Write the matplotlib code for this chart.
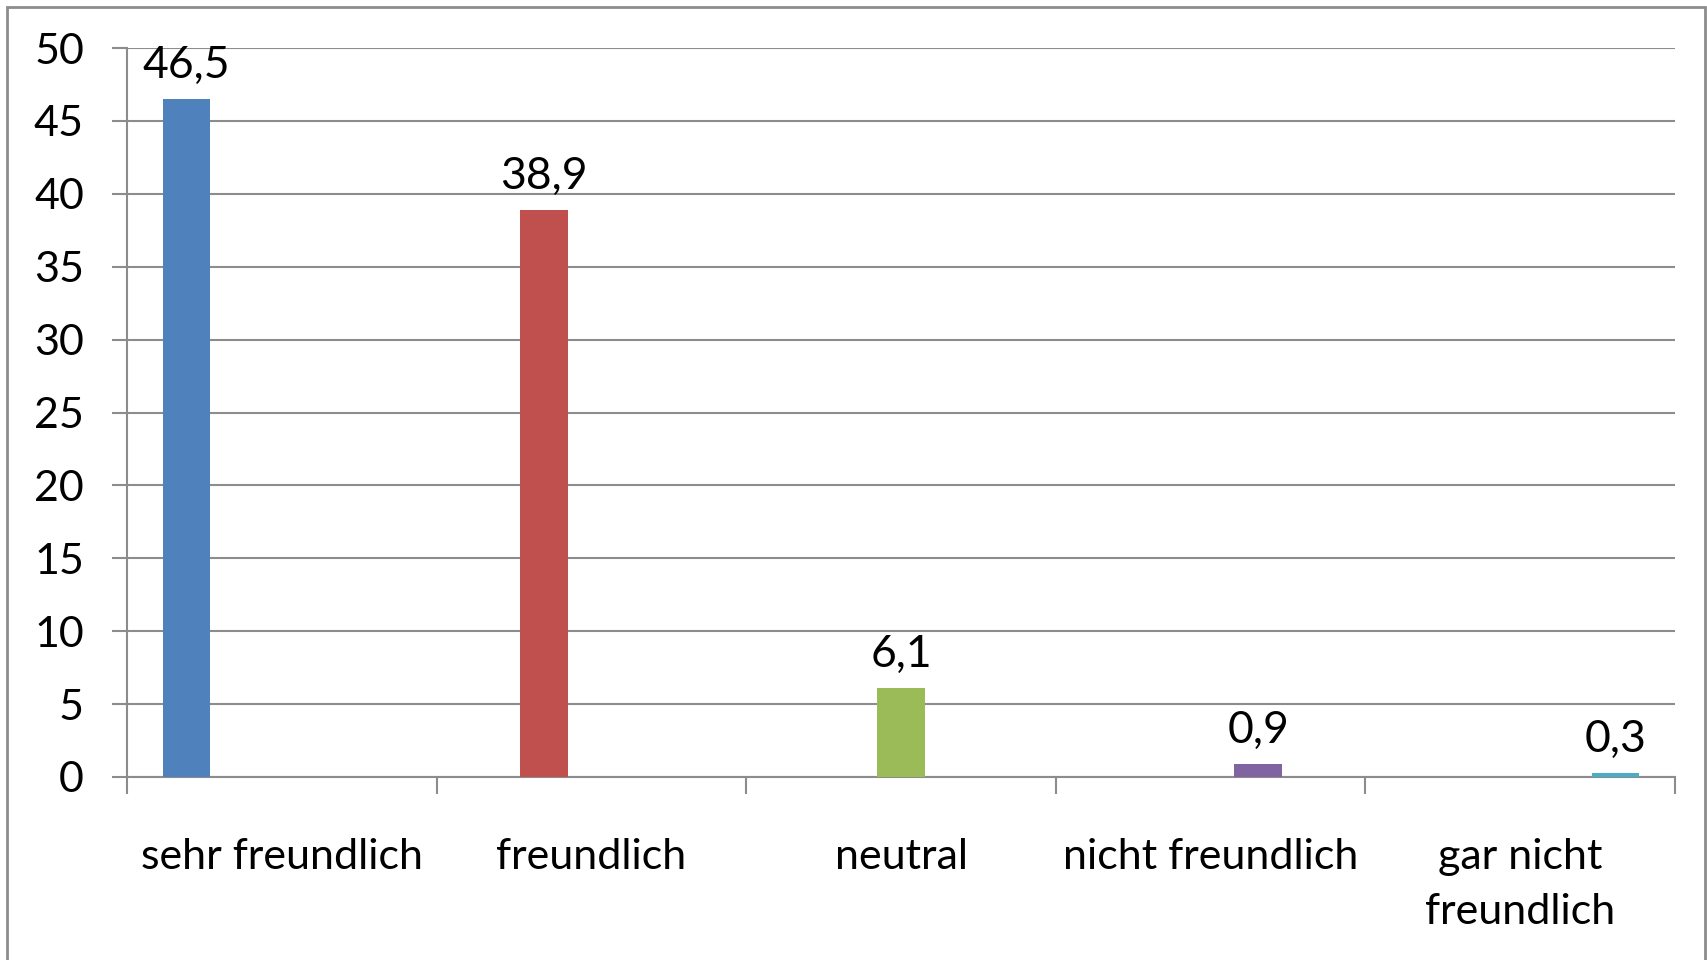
import matplotlib
matplotlib.use("Agg")
import matplotlib.pyplot as plt
from matplotlib.patches import Rectangle
import numpy as np

# data
categories = ["sehr freundlich", "freundlich", "neutral", "nicht freundlich", "gar nicht\nfreundlich"]
values = [46.5, 38.9, 6.1, 0.9, 0.3]
value_labels = ["46,5", "38,9", "6,1", "0,9", "0,3"]
colors = ["#4F81BD", "#C0504D", "#9BBB59", "#8064A2", "#4BACC6"]

plt.rcParams['font.family'] = ['Lato', 'DejaVu Sans']
grid_col = "#8c8c8c"

fig = plt.figure(figsize=(17.07, 9.6), dpi=100)
ax = fig.add_axes([127 / 1707, 1 - 777 / 960, (1675 - 127) / 1707, (777 - 48) / 960])

# Excel-like clustered layout: 5 series, each has a value in its own category
n = len(categories)
w = 1 / 6.5
idx = np.arange(n)
xpos = idx + (idx - 2) * w
ax.bar(xpos, values, width=w, color=colors, zorder=3)

for x, v, lab in zip(xpos, values, value_labels):
    ax.annotate(lab, (x, v), xytext=(0, 15), textcoords="offset points",
                ha="center", va="baseline", fontsize=32)

ax.set_xlim(-0.5, n - 0.5)
ax.set_ylim(0, 50)
ax.set_yticks(np.arange(0, 51, 5))
ax.yaxis.grid(True, color=grid_col, linewidth=1.5, zorder=0)

ax.set_xticks(np.arange(-0.5, n, 1))
ax.set_xticklabels([])
ax.set_xticks(idx, minor=True)
ax.set_xticklabels(categories, minor=True, fontsize=31, linespacing=1.55)
ax.tick_params(axis="x", which="major", length=12, width=1.5, color=grid_col)
ax.tick_params(axis="x", which="minor", length=0, pad=44)
ax.tick_params(axis="y", length=11, width=1.5, color=grid_col, labelsize=31, pad=20)

for s in ["top", "right"]:
    ax.spines[s].set_visible(False)
for s in ["left", "bottom"]:
    ax.spines[s].set_color(grid_col)
    ax.spines[s].set_linewidth(1.5)

# outer chart border
fig.patches.append(Rectangle((7 / 1707, -0.05), (1705 - 7) / 1707, 1.05 - 7 / 960,
                             transform=fig.transFigure, fill=False,
                             edgecolor="#8c8c8c", linewidth=2))

fig.savefig("out.png", dpi=100)
